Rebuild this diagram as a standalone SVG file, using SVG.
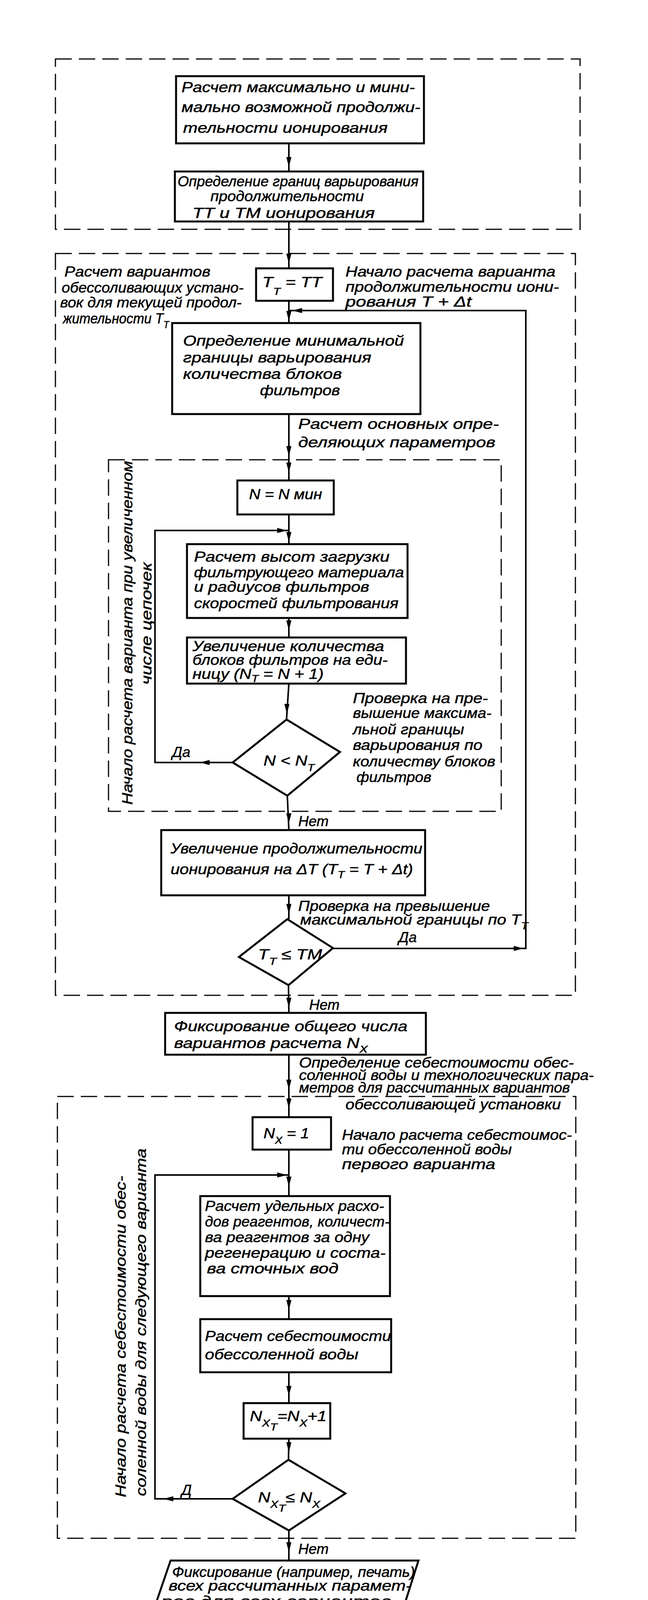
<svg xmlns="http://www.w3.org/2000/svg" xmlns:xlink="http://www.w3.org/1999/xlink" width="1660" height="4489" viewBox="0 0 1660 4489">
<style>
.box{fill:#fff;stroke:#000;stroke-width:5}
.dash{fill:none;stroke:#000;stroke-width:3;stroke-dasharray:42 18}
.ln{fill:none;stroke:#000;stroke-width:4}
.t{font-family:"Liberation Sans",Arial,sans-serif;font-style:italic;font-size:37px;fill:#000;stroke:#000;stroke-width:0.7}
.s{font-size:26px}
.cap{font-family:"Liberation Mono","Courier New",monospace;font-size:34px;font-weight:bold;fill:#000}
</style>
<defs>
<path id="ah" d="M0,0 L-6.5,-26 L6.5,-26 Z" fill="#000"/>
</defs>
<rect x="0" y="0" width="1660" height="4489" fill="#fff"/>

<g id="groups">
<rect id="loop-outer1" class="dash" x="142" y="151" width="1344" height="436"/>
<rect id="loop-outer2" class="dash" x="142" y="649" width="1332" height="1899"/>
<rect id="loop-inner" class="dash" x="278" y="1177" width="1006" height="900"/>
<rect id="loop-cost" class="dash" x="147" y="2807" width="1328" height="1131"/>
</g>

<g id="connectors">
<path class="ln" d="M740,367 V439 M740,567 V687 M740,770 V827 M740,1060 V1230 M740,1317 V1393 M740,1582 V1632 M740,1750 L734,1842 M736,2037 L740,2125 M740,2292 V2353 M739,2522 L740,2593 M740,2700 V2860 M740,2943 V3062 M740,3318 V3377 M740,3513 V3592 M740,3683 L739,3737 M740,3918 V3995"/>
<path class="ln" d="M853,2428 H1347 V795 H740"/>
<path class="ln" d="M596,1952 H397 V1358 H740"/>
<path class="ln" d="M596,3837 H397 V3008 H740"/>
<use xlink:href="#ah" transform="translate(740,428)"/>
<use xlink:href="#ah" transform="translate(740,675)"/>
<use xlink:href="#ah" transform="translate(740,822)"/>
<use xlink:href="#ah" transform="translate(740,1168)"/>
<use xlink:href="#ah" transform="translate(740,1210)"/>
<use xlink:href="#ah" transform="translate(740,1388)"/>
<use xlink:href="#ah" transform="translate(740,1614)"/>
<use xlink:href="#ah" transform="translate(735,1828)"/>
<use xlink:href="#ah" transform="translate(740,2108)"/>
<use xlink:href="#ah" transform="translate(740,2340)"/>
<use xlink:href="#ah" transform="translate(740,2580)"/>
<use xlink:href="#ah" transform="translate(740,2790)"/>
<use xlink:href="#ah" transform="translate(740,2838)"/>
<use xlink:href="#ah" transform="translate(740,3038)"/>
<use xlink:href="#ah" transform="translate(740,3354)"/>
<use xlink:href="#ah" transform="translate(740,3574)"/>
<use xlink:href="#ah" transform="translate(740,3718)"/>
<use xlink:href="#ah" transform="translate(740,3974)"/>
<use xlink:href="#ah" transform="translate(748,795) rotate(90)"/>
<use xlink:href="#ah" transform="translate(511,1952) rotate(90)"/>
<use xlink:href="#ah" transform="translate(418,3837) rotate(90)"/>
<use xlink:href="#ah" transform="translate(736,1358) rotate(-90)"/>
<use xlink:href="#ah" transform="translate(736,3008) rotate(-90)"/>
<use xlink:href="#ah" transform="translate(1342,2428) rotate(-90)"/>
<text class="t" x="441" y="1938">Да</text>
<text class="t" x="764" y="2115">Нет</text>
<text class="t" x="1021" y="2412">Да</text>
<text class="t" x="792" y="2585">Нет</text>
<text class="t" x="465" y="3827">Д</text>
<text class="t" x="764" y="3978">Нет</text>
</g>

<g id="n1">
<rect class="box" x="451" y="195" width="635" height="172"/>
<text class="t" x="465" y="236" textLength="598" lengthAdjust="spacingAndGlyphs">Расчет максимально и мини-</text>
<text class="t" x="465" y="287" textLength="612" lengthAdjust="spacingAndGlyphs">мально возможной продолжи-</text>
<text class="t" x="469" y="340" textLength="524" lengthAdjust="spacingAndGlyphs">тельности ионирования</text>
</g>

<g id="n2">
<rect class="box" x="448" y="439" width="636" height="128"/>
<text class="t" x="455" y="477" textLength="617" lengthAdjust="spacingAndGlyphs">Определение границ варьирования</text>
<text class="t" x="539" y="515" textLength="393" lengthAdjust="spacingAndGlyphs">продолжительности</text>
<text class="t" x="493" y="558" textLength="467" lengthAdjust="spacingAndGlyphs">TT и TM ионирования</text>
</g>

<g id="n3">
<rect class="box" x="656" y="687" width="197" height="83"/>
<text class="t" x="672" y="735" textLength="153" lengthAdjust="spacingAndGlyphs">T<tspan class="s" dy="20">T</tspan><tspan dy="-20"> = TT</tspan></text>
</g>

<g id="lbl-left1">
<text class="t" x="165" y="708" textLength="374" lengthAdjust="spacingAndGlyphs">Расчет вариантов</text>
<text class="t" x="158" y="749" textLength="466" lengthAdjust="spacingAndGlyphs">обессоливающих устано-</text>
<text class="t" x="154" y="787" textLength="465" lengthAdjust="spacingAndGlyphs">вок для текущей продол-</text>
<text class="t" x="161" y="828" textLength="272" lengthAdjust="spacingAndGlyphs">жительности T<tspan class="s" dy="12">T</tspan></text>
</g>

<g id="lbl-right1">
<text class="t" x="885" y="708" textLength="538" lengthAdjust="spacingAndGlyphs">Начало расчета варианта</text>
<text class="t" x="885" y="747" textLength="547" lengthAdjust="spacingAndGlyphs">продолжительности иони-</text>
<text class="t" x="885" y="785" textLength="323" lengthAdjust="spacingAndGlyphs">рования T + Δt</text>
</g>

<g id="n4">
<rect class="box" x="441" y="827" width="636" height="233"/>
<text class="t" x="469" y="885" textLength="566" lengthAdjust="spacingAndGlyphs">Определение минимальной</text>
<text class="t" x="469" y="928" textLength="482" lengthAdjust="spacingAndGlyphs">границы варьирования</text>
<text class="t" x="469" y="970" textLength="407" lengthAdjust="spacingAndGlyphs">количества блоков</text>
<text class="t" x="666" y="1012" textLength="205" lengthAdjust="spacingAndGlyphs">фильтров</text>
</g>

<g id="lbl-params">
<text class="t" x="764" y="1098" textLength="514" lengthAdjust="spacingAndGlyphs">Расчет основных опре-</text>
<text class="t" x="764" y="1145" textLength="505" lengthAdjust="spacingAndGlyphs">деляющих параметров</text>
</g>

<g id="n5">
<rect class="box" x="608" y="1230" width="247" height="87"/>
<text class="t" x="638" y="1278" textLength="187" lengthAdjust="spacingAndGlyphs">N = N мин</text>
</g>

<g id="n6">
<rect class="box" x="479" y="1393" width="565" height="189"/>
<text class="t" x="497" y="1438" textLength="501" lengthAdjust="spacingAndGlyphs">Расчет высот загрузки</text>
<text class="t" x="497" y="1478" textLength="538" lengthAdjust="spacingAndGlyphs">фильтрующего материала</text>
<text class="t" x="497" y="1515" textLength="449" lengthAdjust="spacingAndGlyphs">и радиусов фильтров</text>
<text class="t" x="497" y="1557" textLength="524" lengthAdjust="spacingAndGlyphs">скоростей фильтрования</text>
</g>

<g id="n7">
<rect class="box" x="479" y="1632" width="561" height="118"/>
<text class="t" x="493" y="1667" textLength="491" lengthAdjust="spacingAndGlyphs">Увеличение количества</text>
<text class="t" x="493" y="1702" textLength="500" lengthAdjust="spacingAndGlyphs">блоков фильтров на еди-</text>
<text class="t" x="493" y="1738" textLength="336" lengthAdjust="spacingAndGlyphs">ницу (N<tspan class="s" dy="8">T</tspan><tspan dy="-8"> = N + 1)</tspan></text>
</g>

<g id="lbl-check1">
<text class="t" x="904" y="1800" textLength="346" lengthAdjust="spacingAndGlyphs">Проверка на пре-</text>
<text class="t" x="904" y="1838" textLength="355" lengthAdjust="spacingAndGlyphs">вышение максима-</text>
<text class="t" x="904" y="1880" textLength="285" lengthAdjust="spacingAndGlyphs">льной границы</text>
<text class="t" x="904" y="1920" textLength="332" lengthAdjust="spacingAndGlyphs">варьирования по</text>
<text class="t" x="904" y="1962" textLength="365" lengthAdjust="spacingAndGlyphs">количеству блоков</text>
<text class="t" x="913" y="2002" textLength="192" lengthAdjust="spacingAndGlyphs">фильтров</text>
</g>

<g id="n8">
<polygon class="box" points="734,1842 871,1925 736,2037 596,1952"/>
<text class="t" x="675" y="1960" textLength="131" lengthAdjust="spacingAndGlyphs">N &lt; N<tspan class="s" dy="14">T</tspan></text>
</g>

<g id="lbl-vert1">
<text class="t" transform="translate(339,2060) rotate(-90)" textLength="880" lengthAdjust="spacingAndGlyphs">Начало расчета варианта при увеличенном</text>
<text class="t" transform="translate(388,1753) rotate(-90)" textLength="313" lengthAdjust="spacingAndGlyphs">числе цепочек</text>
</g>

<g id="n9">
<rect class="box" x="413" y="2125" width="676" height="167"/>
<text class="t" x="437" y="2185" textLength="645" lengthAdjust="spacingAndGlyphs">Увеличение продолжительности</text>
<text class="t" x="437" y="2238" textLength="621" lengthAdjust="spacingAndGlyphs">ионирования на ΔT (T<tspan class="s" dy="10">T</tspan><tspan dy="-10"> = T + Δt)</tspan></text>
</g>

<g id="lbl-check2">
<text class="t" x="764" y="2332" textLength="491" lengthAdjust="spacingAndGlyphs">Проверка на превышение</text>
<text class="t" x="769" y="2367" textLength="584" lengthAdjust="spacingAndGlyphs">максимальной границы по T<tspan class="s" dy="12">T</tspan></text>
</g>

<g id="n10">
<polygon class="box" points="736,2353 853,2427 739,2522 612,2450"/>
<text class="t" x="661" y="2456" textLength="164" lengthAdjust="spacingAndGlyphs">T<tspan class="s" dy="14">T</tspan><tspan dy="-14"> ≤ TM</tspan></text>
</g>

<g id="n11">
<rect class="box" x="423" y="2593" width="668" height="107"/>
<text class="t" x="446" y="2640" textLength="598" lengthAdjust="spacingAndGlyphs">Фиксирование общего числа</text>
<text class="t" x="446" y="2683" textLength="496" lengthAdjust="spacingAndGlyphs">вариантов расчета N<tspan class="s" dy="12">X</tspan></text>
</g>

<g id="lbl-cost">
<text class="t" x="766" y="2733" textLength="704" lengthAdjust="spacingAndGlyphs">Определение себестоимости обес-</text>
<text class="t" x="766" y="2765" textLength="755" lengthAdjust="spacingAndGlyphs">соленной воды и технологических пара-</text>
<text class="t" x="766" y="2797" textLength="694" lengthAdjust="spacingAndGlyphs">метров для рассчитанных вариантов</text>
<text class="t" x="885" y="2840" textLength="552" lengthAdjust="spacingAndGlyphs">обессоливающей установки</text>
</g>

<g id="n12">
<rect class="box" x="647" y="2860" width="201" height="83"/>
<text class="t" x="675" y="2914" textLength="117" lengthAdjust="spacingAndGlyphs">N<tspan class="s" dy="14">X</tspan><tspan dy="-14"> = 1</tspan></text>
</g>

<g id="lbl-first">
<text class="t" x="876" y="2918" textLength="589" lengthAdjust="spacingAndGlyphs">Начало расчета себестоимос-</text>
<text class="t" x="876" y="2955" textLength="435" lengthAdjust="spacingAndGlyphs">ти обессоленной воды</text>
<text class="t" x="876" y="2993" textLength="393" lengthAdjust="spacingAndGlyphs">первого варианта</text>
</g>

<g id="n13">
<rect class="box" x="513" y="3062" width="486" height="256"/>
<text class="t" x="525" y="3100" textLength="459" lengthAdjust="spacingAndGlyphs">Расчет удельных расхо-</text>
<text class="t" x="525" y="3140" textLength="473" lengthAdjust="spacingAndGlyphs">дов реагентов, количест-</text>
<text class="t" x="525" y="3180" textLength="421" lengthAdjust="spacingAndGlyphs">ва реагентов за одну</text>
<text class="t" x="525" y="3220" textLength="463" lengthAdjust="spacingAndGlyphs">регенерацию и соста-</text>
<text class="t" x="530" y="3260" textLength="337" lengthAdjust="spacingAndGlyphs">ва сточных вод</text>
</g>

<g id="lbl-vert2">
<text class="t" transform="translate(322,3833) rotate(-90)" textLength="823" lengthAdjust="spacingAndGlyphs">Начало расчета себестоимости обес-</text>
<text class="t" transform="translate(374,3830) rotate(-90)" textLength="890" lengthAdjust="spacingAndGlyphs">соленной воды для следующего варианта</text>
</g>

<g id="n14">
<rect class="box" x="513" y="3377" width="489" height="136"/>
<text class="t" x="525" y="3433" textLength="477" lengthAdjust="spacingAndGlyphs">Расчет себестоимости</text>
<text class="t" x="525" y="3480" textLength="393" lengthAdjust="spacingAndGlyphs">обессоленной воды</text>
</g>

<g id="n15">
<rect class="box" x="624" y="3592" width="222" height="91"/>
<text class="t" x="640" y="3638" textLength="197" lengthAdjust="spacingAndGlyphs">N<tspan class="s" dy="14">X</tspan><tspan class="s" dy="10">T</tspan><tspan dy="-24">=N</tspan><tspan class="s" dy="14">X</tspan><tspan dy="-14">+1</tspan></text>
</g>

<g id="n16">
<polygon class="box" points="739,3737 885,3823 740,3918 596,3837"/>
<text class="t" x="661" y="3846" textLength="159" lengthAdjust="spacingAndGlyphs">N<tspan class="s" dy="14">X</tspan><tspan class="s" dy="10">T</tspan><tspan dy="-24">≤ N</tspan><tspan class="s" dy="14">X</tspan></text>
</g>

<g id="n17">
<polygon class="box" points="437,3995 1072,3995 998,4228 357,4228"/>
<text class="t" x="441" y="4037" textLength="622" lengthAdjust="spacingAndGlyphs">Фиксирование (например, печать)</text>
<text class="t" x="432" y="4072" textLength="622" lengthAdjust="spacingAndGlyphs">всех рассчитанных парамет-</text>
<text class="t" x="413" y="4112" textLength="589" lengthAdjust="spacingAndGlyphs">ров для всех вариантов</text>
<text class="t" x="404" y="4152" textLength="608" lengthAdjust="spacingAndGlyphs">построения обессоливаю-</text>
<text class="t" x="395" y="4192" textLength="364" lengthAdjust="spacingAndGlyphs">щей установки</text>
</g>

<g id="caption">
<text class="cap" x="278" y="4290" textLength="1117" lengthAdjust="spacingAndGlyphs">Рис.I4. Блок-схема алгоритма расчета обессоливающей</text>
<text class="cap" x="380" y="4325" textLength="861" lengthAdjust="spacingAndGlyphs">установки с блочным включением фильтров</text>
</g>
</svg>
